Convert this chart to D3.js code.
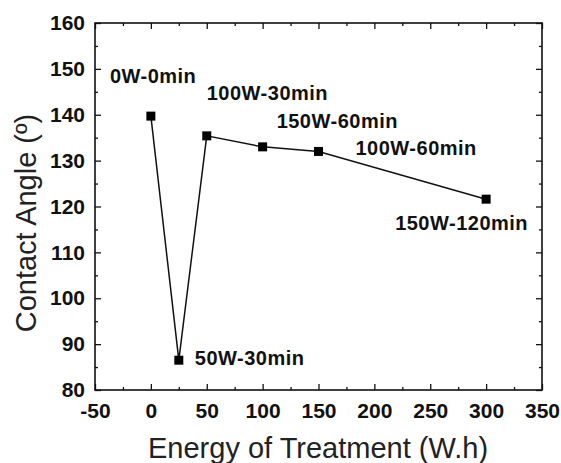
<!DOCTYPE html>
<html lang="en">
<head>
<meta charset="utf-8">
<script src="https://d3js.org/d3.v7.min.js"></script>
<style>
  body { margin: 0; background: #fff; }
  text { font-family: "Liberation Sans", Arial, sans-serif; }
</style>
</head>
<body>
<script>
// data
var energy = [0, 25, 50, 100, 150, 300];
var angle = [139.7, 86.5, 135.4, 133.0, 132.0, 121.6];
var labels = ["0W-0min", "50W-30min", "100W-30min", "150W-60min", "100W-60min", "150W-120min"];
// label offsets from point, in pixels
var labelDx = [-41, 16, 0, 14, 37, -91];
var labelDy = [-33, 5, -36, -19, 4, 31];
var xTicks = [-50, 0, 50, 100, 150, 200, 250, 300, 350];
var yTicks = [80, 90, 100, 110, 120, 130, 140, 150, 160];

var width = 561, height = 463;
var margin = {left: 95, top: 23, right: 19, bottom: 73};
var w = width - margin.left - margin.right;
var h = height - margin.top - margin.bottom;

var svg = d3.select("body").append("svg")
  .attr("width", width).attr("height", height);

var g = svg.append("g")
  .attr("transform", "translate(" + margin.left + "," + margin.top + ")");

var x = d3.scaleLinear().domain([-50, 350]).range([0, w]);
var y = d3.scaleLinear().domain([80, 160]).range([h, 0]);

var xMinor = d3.range(-25, 350, 50);
var yMinor = d3.range(85, 160, 10);

// plain hyphen for negatives, like the original
var fmt = function (d) { return String(d); };

function styleAxis(sel) {
  sel.select(".domain").remove();
  sel.selectAll("line").attr("stroke", "#111").attr("stroke-width", 1.3);
  sel.selectAll("text").attr("fill", "#111")
    .style("font-size", "21px").style("font-weight", "bold");
}

// bottom
g.append("g").attr("transform", "translate(0," + h + ")")
  .call(d3.axisBottom(x).tickValues(xTicks).tickSize(-6).tickPadding(13).tickFormat(fmt))
  .call(styleAxis);
g.append("g").attr("transform", "translate(0," + h + ")")
  .call(d3.axisBottom(x).tickValues(xMinor).tickSize(-3).tickFormat(""))
  .call(styleAxis);
// top
g.append("g")
  .call(d3.axisTop(x).tickValues(xTicks).tickSize(-6).tickFormat(""))
  .call(styleAxis);
g.append("g")
  .call(d3.axisTop(x).tickValues(xMinor).tickSize(-3).tickFormat(""))
  .call(styleAxis);
// left
g.append("g")
  .call(d3.axisLeft(y).tickValues(yTicks).tickSize(-6).tickPadding(10).tickFormat(fmt))
  .call(styleAxis);
g.append("g")
  .call(d3.axisLeft(y).tickValues(yMinor).tickSize(-3).tickFormat(""))
  .call(styleAxis);
// right
g.append("g").attr("transform", "translate(" + w + ",0)")
  .call(d3.axisRight(y).tickValues(yTicks).tickSize(-6).tickFormat(""))
  .call(styleAxis);
g.append("g").attr("transform", "translate(" + w + ",0)")
  .call(d3.axisRight(y).tickValues(yMinor).tickSize(-3).tickFormat(""))
  .call(styleAxis);

// frame
g.append("rect").attr("width", w).attr("height", h)
  .attr("fill", "none").attr("stroke", "#111").attr("stroke-width", 1.6);

var pts = energy.map(function (e, i) { return {x: e, y: angle[i], label: labels[i], i: i}; });

g.append("path").datum(pts)
  .attr("fill", "none").attr("stroke", "#111").attr("stroke-width", 1.5)
  .attr("d", d3.line().x(function (d) { return x(d.x); }).y(function (d) { return y(d.y); }));

g.selectAll(".pt").data(pts).enter().append("rect")
  .attr("x", function (d) { return x(d.x) - 4.5; })
  .attr("y", function (d) { return y(d.y) - 4.5; })
  .attr("width", 9).attr("height", 9).attr("fill", "#000");

g.selectAll(".lbl").data(pts).enter().append("text")
  .attr("x", function (d) { return x(d.x) + labelDx[d.i]; })
  .attr("y", function (d) { return y(d.y) + labelDy[d.i]; })
  .attr("fill", "#111")
  .style("font-size", "20px").style("font-weight", "bold")
  .style("letter-spacing", "0.5px")
  .text(function (d) { return d.label; });

// axis titles
svg.append("text")
  .attr("x", 148).attr("y", 458)
  .style("font-size", "29px").attr("fill", "#222")
  .text("Energy of Treatment (W.h)");

svg.append("text")
  .attr("transform", "translate(36,223) rotate(-90)")
  .attr("text-anchor", "middle")
  .style("font-size", "29px").attr("fill", "#222")
  .text("Contact Angle (º)");
</script>
</body>
</html>
